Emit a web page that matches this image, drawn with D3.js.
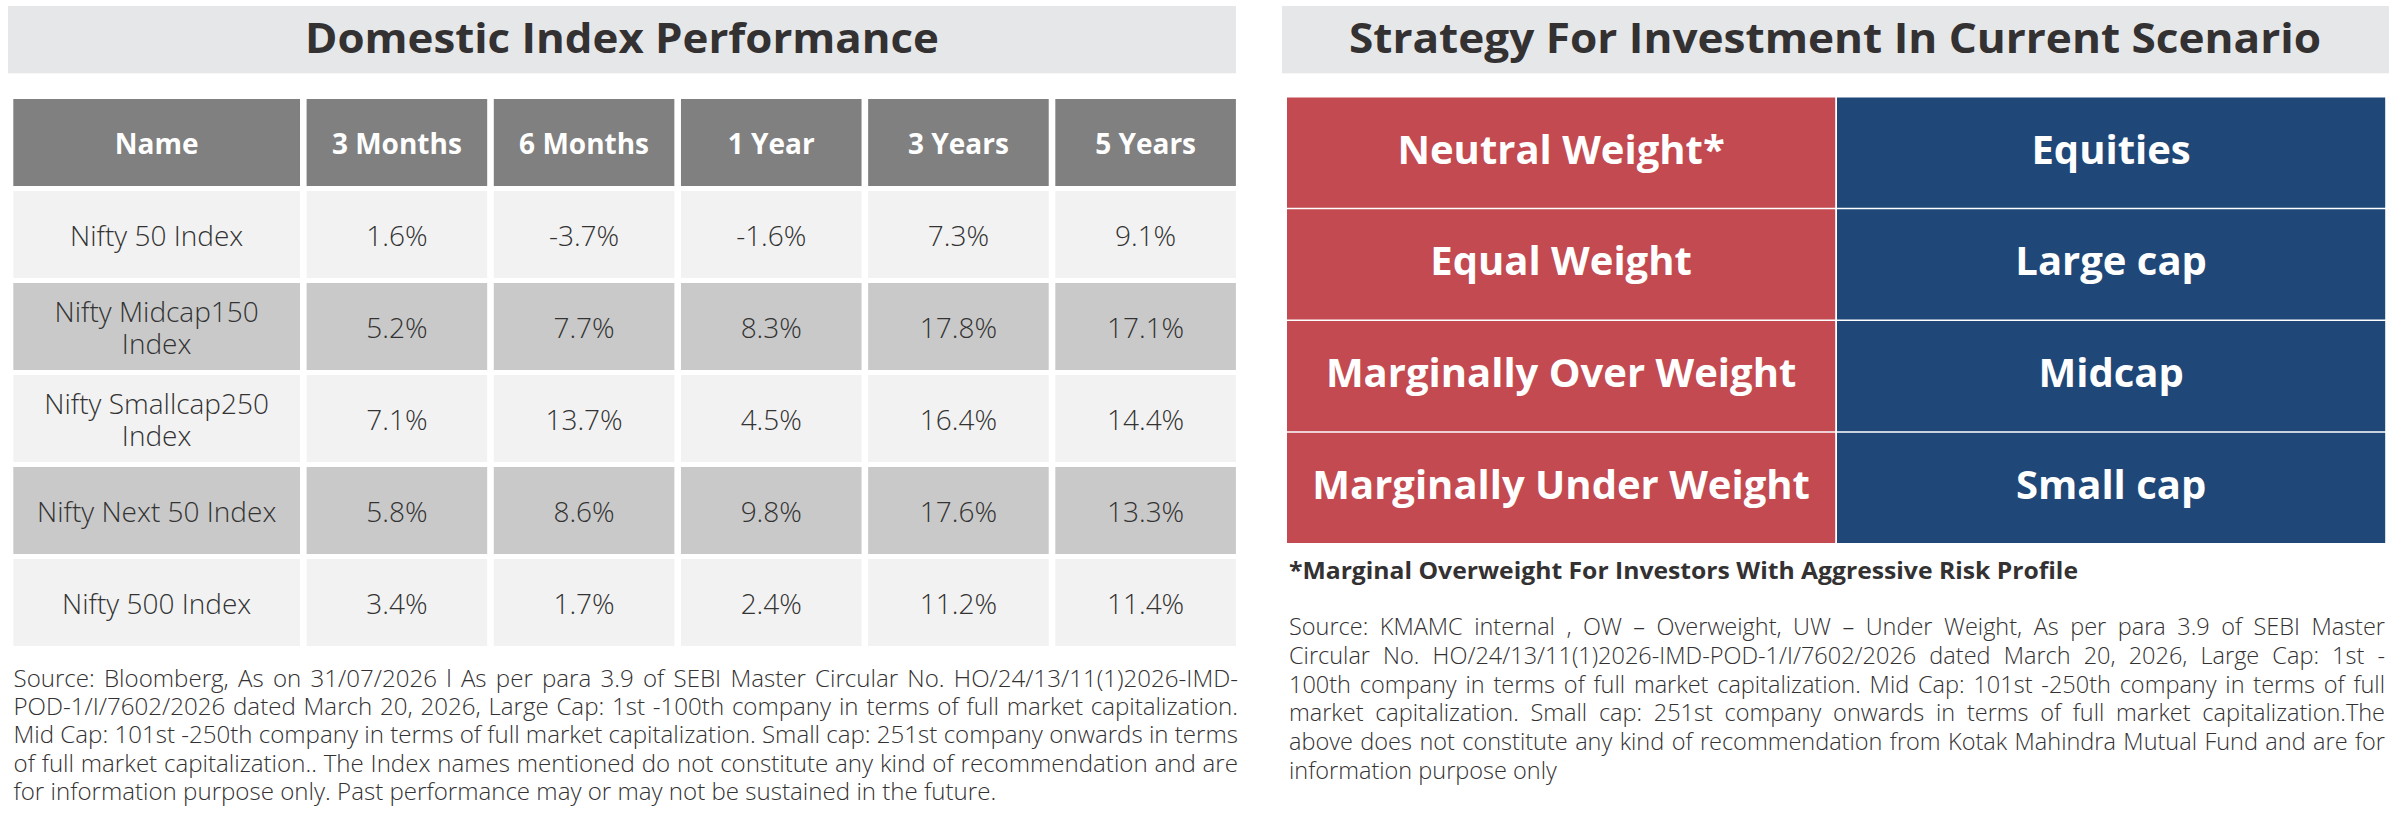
<!DOCTYPE html>
<html>
<head>
<meta charset="utf-8">
<script src="https://cdn.jsdelivr.net/npm/d3@7"></script>
<style>
  html, body { margin: 0; padding: 0; background: #ffffff; }
  svg { display: block; font-family: "Open Sans", "Noto Sans", sans-serif; }
</style>
</head>
<body>
<svg id="chart" width="2405" height="824"></svg>
<script>
// ---------------- DATA ----------------
const leftTitle = "Domestic Index Performance";
const rightTitle = "Strategy For Investment In Current Scenario";
const nameHeader = "Name";
const periods = ["3 Months", "6 Months", "1 Year", "3 Years", "5 Years"];
const indexNames = ["Nifty 50 Index", "Nifty Midcap150 Index", "Nifty Smallcap250 Index", "Nifty Next 50 Index", "Nifty 500 Index"];
const ret3M = [1.6, 5.2, 7.1, 5.8, 3.4];
const ret6M = [-3.7, 7.7, 13.7, 8.6, 1.7];
const ret1Y = [-1.6, 8.3, 4.5, 9.8, 2.4];
const ret3Y = [7.3, 17.8, 16.4, 17.6, 11.2];
const ret5Y = [9.1, 17.1, 14.4, 13.3, 11.4];
const stances = ["Neutral Weight*", "Equal Weight", "Marginally Over Weight", "Marginally Under Weight"];
const assetClasses = ["Equities", "Large cap", "Midcap", "Small cap"];
const strategyNote = "*Marginal Overweight For Investors With Aggressive Risk Profile";
const leftSourceLines = [
  "Source: Bloomberg, As on 31/07/2026 l As per para 3.9 of SEBI Master Circular No. HO/24/13/11(1)2026-IMD-",
  "POD-1/I/7602/2026 dated March 20, 2026, Large Cap: 1st -100th company in terms of full market capitalization.",
  "Mid Cap: 101st -250th company in terms of full market capitalization. Small cap: 251st company onwards in terms",
  "of full market capitalization.. The Index names mentioned do not constitute any kind of recommendation and are",
  "for information purpose only. Past performance may or may not be sustained in the future."
];
const rightSourceLines = [
  "Source: KMAMC internal , OW \u2013 Overweight, UW \u2013 Under Weight, As per para 3.9 of SEBI Master",
  "Circular No. HO/24/13/11(1)2026-IMD-POD-1/I/7602/2026 dated March 20, 2026, Large Cap: 1st -",
  "100th company in terms of full market capitalization. Mid Cap: 101st -250th company in terms of full",
  "market capitalization. Small cap: 251st company onwards in terms of full market capitalization.The",
  "above does not constitute any kind of recommendation from Kotak Mahindra Mutual Fund and are for",
  "information purpose only"
];

// ---------------- STYLE ----------------
const C = {
  titleBar: "#e6e7e8", titleText: "#333132",
  header: "#808080", rowLight: "#f2f2f2", rowDark: "#c9c9c9", cellText: "#333333",
  red: "#c34a50", blue: "#1f4878", note: "#333132"
};
const LIGHT = 300;

const svg = d3.select("#chart");

// ---------------- TITLE BARS ----------------
function titleBar(x0, x1, text, tx0, tx1) {
  svg.append("rect").attr("x", x0).attr("y", 6).attr("width", x1 - x0).attr("height", 67.3).attr("fill", C.titleBar);
  svg.append("text")
    .attr("x", (tx0 + tx1) / 2).attr("y", 52.6)
    .attr("text-anchor", "middle")
    .attr("font-size", 42).attr("font-weight", 700)
    .attr("fill", C.titleText)
    .attr("textLength", tx1 - tx0).attr("lengthAdjust", "spacingAndGlyphs")
    .text(text);
}
titleBar(8, 1236, leftTitle, 305, 939);
titleBar(1282, 2389, rightTitle, 1349, 2321);

// ---------------- LEFT TABLE ----------------
const columns = [nameHeader].concat(periods);
const seriesByPeriod = [ret3M, ret6M, ret1Y, ret3Y, ret5Y];
const colWeights = [1.567, 1, 1, 1, 1, 1];
const colStarts = d3.cumsum([0].concat(colWeights));
const x = d3.scaleLinear().domain([0, d3.sum(colWeights)]).range([13.3, 1242.5]);
const colGap = 6.6;
const y = d3.scaleBand().domain(["__header__"].concat(indexNames)).range([99, 651]);
const rowGap = 5;
const fs = 28;

const leftG = svg.append("g");
columns.forEach((c, i) => {
  const cx0 = x(colStarts[i]), cx1 = x(colStarts[i + 1]) - colGap;
  const y0 = y("__header__"), h = y.bandwidth() - rowGap;
  leftG.append("rect").attr("x", cx0).attr("y", y0).attr("width", cx1 - cx0).attr("height", h).attr("fill", C.header);
  leftG.append("text").attr("x", (cx0 + cx1) / 2).attr("y", y0 + h / 2 + 11)
    .attr("text-anchor", "middle").attr("font-size", fs).attr("font-weight", 700).attr("fill", "#ffffff").text(c);
});

function wrapWords(text, maxW, size, weight) {
  const m = svg.append("text").attr("font-size", size).attr("font-weight", weight).attr("visibility", "hidden");
  const words = text.split(" ");
  const lines = [];
  let cur = "";
  words.forEach(w => {
    const trial = cur ? cur + " " + w : w;
    m.text(trial);
    if (m.node().getComputedTextLength() > maxW && cur) { lines.push(cur); cur = w; }
    else cur = trial;
  });
  if (cur) lines.push(cur);
  m.remove();
  return lines;
}

indexNames.forEach((name, r) => {
  const y0 = y(name), h = y.bandwidth() - rowGap;
  const fill = r % 2 === 0 ? C.rowLight : C.rowDark;
  const cy = y0 + h / 2;
  columns.forEach((c, i) => {
    const cx0 = x(colStarts[i]), cx1 = x(colStarts[i + 1]) - colGap;
    leftG.append("rect").attr("x", cx0).attr("y", y0).attr("width", cx1 - cx0).attr("height", h).attr("fill", fill);
    if (i === 0) {
      const lines = wrapWords(name, 262, fs, LIGHT);
      const lh = 32.4;
      lines.forEach((ln, k) => {
        leftG.append("text").attr("x", (cx0 + cx1) / 2)
          .attr("y", cy + 11.5 + (k - (lines.length - 1) / 2) * lh)
          .attr("text-anchor", "middle").attr("font-size", fs).attr("font-weight", LIGHT)
          .attr("fill", C.cellText).text(ln);
      });
    } else {
      const v = seriesByPeriod[i - 1][r];
      leftG.append("text").attr("x", (cx0 + cx1) / 2).attr("y", cy + 11.5)
        .attr("text-anchor", "middle").attr("font-size", fs).attr("font-weight", LIGHT).attr("fill", C.cellText)
        .text(v.toFixed(1) + "%");
    }
  });
});

// ---------------- RIGHT TABLE ----------------
const rx = d3.scaleBand().domain(["stance", "asset"]).range([1287, 2387]);
const ry = d3.scaleBand().domain(stances).range([97.5, 544.5]);
const rightG = svg.append("g");
stances.forEach((s, r) => {
  const y0 = ry(s), h = ry.bandwidth() - 1.5;
  const cy = y0 + h / 2;
  [["stance", s, C.red], ["asset", assetClasses[r], C.blue]].forEach(([key, label, col]) => {
    const x0 = rx(key), w = rx.bandwidth() - 1.8;
    rightG.append("rect").attr("x", x0).attr("y", y0).attr("width", w).attr("height", h).attr("fill", col);
    rightG.append("text").attr("x", x0 + w / 2).attr("y", cy + 11)
      .attr("text-anchor", "middle").attr("font-size", 40).attr("font-weight", 700)
      .attr("fill", "#ffffff").text(label);
  });
});

// footnote
svg.append("text").attr("x", 1289).attr("y", 579)
  .attr("font-size", 24).attr("font-weight", 700).attr("fill", C.note)
  .attr("textLength", 789).attr("lengthAdjust", "spacingAndGlyphs")
  .text(strategyNote);

// ---------------- JUSTIFIED SOURCE TEXT (word by word) ----------------
function justifiedBlock(lines, x0, x1, yFirst, dy, size) {
  const g = svg.append("g");
  const target = x1 - x0;
  const meas = g.append("text").attr("font-size", size).attr("font-weight", LIGHT).attr("visibility", "hidden");
  const measure = s => { meas.text(s); return meas.node().getComputedTextLength(); };
  const spaceW = measure("a a") - measure("aa");
  const info = lines.map(l => {
    const words = l.split(" ");
    const ws = words.map(measure);
    return { words, ws, natural: d3.sum(ws) + spaceW * (words.length - 1) };
  });
  meas.remove();
  const k = Math.min(1, target / d3.max(info.slice(0, -1), d => d.natural));
  info.forEach((d, i) => {
    const last = i === info.length - 1;
    const wsK = d.ws.map(w => w * k);
    const gap = (last || d.words.length < 2) ? spaceW * k : (target - d3.sum(wsK)) / (d.words.length - 1);
    let cx = x0;
    d.words.forEach((w, j) => {
      const t = g.append("text").attr("x", cx).attr("y", yFirst + i * dy)
        .attr("font-size", size).attr("font-weight", LIGHT).attr("fill", C.note).text(w);
      if (k < 1) t.attr("textLength", wsK[j]).attr("lengthAdjust", "spacingAndGlyphs");
      cx += wsK[j] + gap;
    });
  });
}
justifiedBlock(leftSourceLines, 13.5, 1238, 686.7, 28.3, 24.5);
justifiedBlock(rightSourceLines, 1289, 2385, 635, 28.8, 23.5);
</script>
</body>
</html>
